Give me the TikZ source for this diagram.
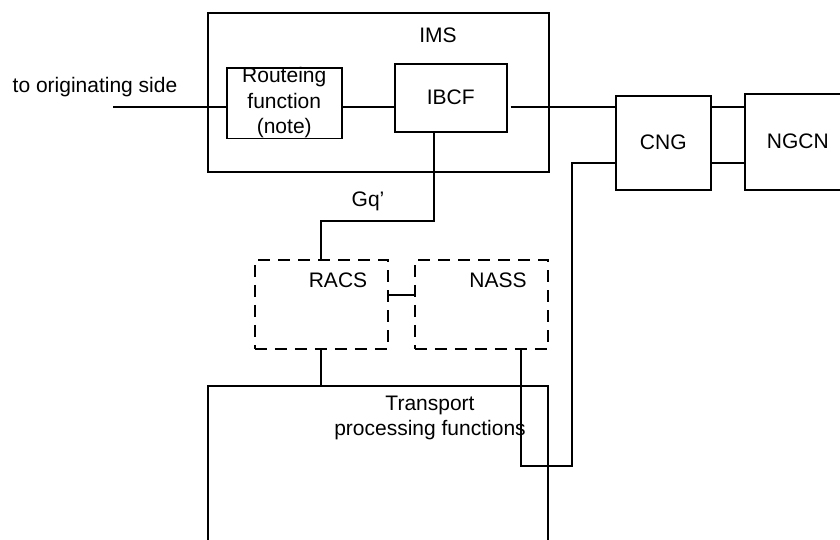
\documentclass[tikz,border=0pt]{standalone}
\usepackage{fontspec}
\setmainfont{Liberation Sans}
\begin{document}
\begin{tikzpicture}[x=1pt,y=-1pt,
  box/.style={draw, line width=1.5pt, inner sep=0pt, anchor=north west, font=\fontsize{21}{25.5}\selectfont, align=center},
  dbox/.style={box, dash pattern=on 12pt off 8pt},
  lbl/.style={font=\fontsize{21}{25.5}\selectfont, inner sep=0pt, align=center},
  conn/.style={line width=1.7pt}]
\useasboundingbox (0,0) rectangle (840,539);
\clip (0,0) rectangle (840,539);
% boxes
\node[box, minimum width=341pt, minimum height=159pt] (ims) at (207,12) {};
\node[box, minimum width=115pt, minimum height=70pt] (rout) at (226,67) {Routeing\\function\\(note)};
\node[box, minimum width=112pt, minimum height=68pt] (ibcf) at (394,63) {IBCF};
\node[box, minimum width=95pt, minimum height=94pt] (cng) at (615,95) {CNG};
\node[box, minimum width=106pt, minimum height=96pt] (ngcn) at (744,93) {NGCN};
\node[dbox, minimum width=133pt, minimum height=89pt] (racs) at (254,259) {};
\node[dbox, minimum width=133pt, minimum height=89pt] (nass) at (414,259) {};
\coordinate (tpnw) at (208,386);
\coordinate (tpne) at (548,386);
\draw[line width=1.5pt] (208,545) -- (tpnw) -- (tpne) -- (548,545);
% labels
\node[lbl] (imsl) at (438,35) {IMS};
\node[lbl] (racsl) at (338,280) {RACS};
\node[lbl] (nassl) at (498,280) {NASS};
\node[lbl] (gql) at (368,201) {Gq'};
\node[lbl] (origl) at (95,87) {to originating side};
\node[lbl] (tpl) at (430,418) {Transport\\processing functions};
% connectors
\coordinate (orig) at (113,107);
\coordinate (gq) at (434,221);
\coordinate (rn) at (400,295);
\coordinate (nd) at (521,466);
\coordinate (ne) at (572,163);
\coordinate (lo) at (700,163);
\draw[conn] (orig) -- (rout.west |- orig);
\draw[conn] (rout.east |- orig) -- (ibcf.west |- orig);
\draw[conn] ([xshift=3pt]ibcf.east |- orig) -- (cng.west |- orig);
\draw[conn] (cng.east |- orig) -- (ngcn.west |- orig);
\draw[conn] (cng.east |- lo) -- (ngcn.west |- lo);
\draw[conn] (ibcf.south -| gq) -- (gq) -| (racs.north);
\draw[conn] (racs.east |- rn) -- (nass.west |- rn);
\draw[conn] (racs.south) -- (racs.south |- tpnw);
\draw[conn] (nass.south -| nd) -- (nd) -| (ne) -- (cng.west |- ne);
\end{tikzpicture}
\end{document}
